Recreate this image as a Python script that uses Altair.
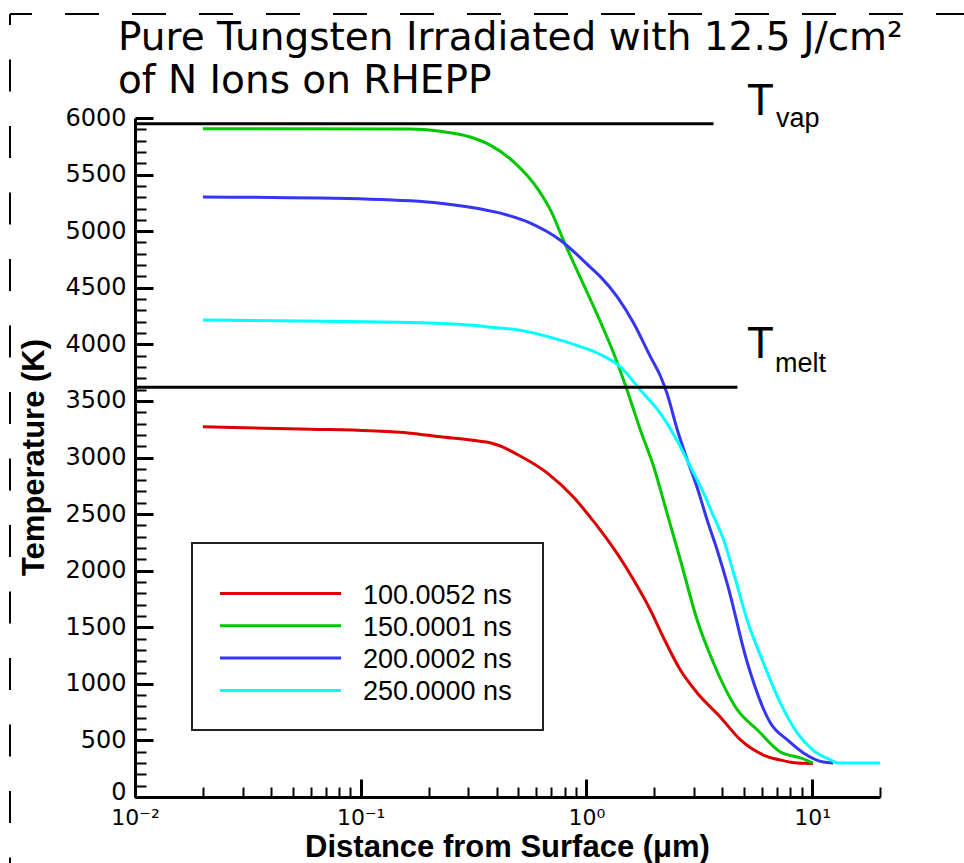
import altair as alt
import pandas as pd

# ---------------- data ----------------
series_names = ["100.0052 ns", "150.0001 ns", "200.0002 ns", "250.0000 ns"]
series_colors = ["#dd0000", "#00c800", "#3535f5", "#00ffff"]

dist_100 = [0.02, 0.06, 0.11, 0.166, 0.225, 0.306, 0.387, 0.43, 0.475, 0.672, 0.876, 1.04,
            1.153, 1.368, 1.621, 1.921, 2.19, 2.61, 3.10, 3.92, 4.82, 6.09, 7.24, 8.61, 10.1]
temp_100 = [3271, 3250, 3236, 3215, 3183, 3154, 3122, 3090, 3045, 2862, 2650, 2473,
            2359, 2153, 1917, 1652, 1413, 1122, 919, 707, 504, 371, 327, 300, 296]

dist_150 = [0.02, 0.166, 0.225, 0.306, 0.375, 0.475, 0.613, 0.70, 0.791, 1.04, 1.153, 1.321,
            1.514, 1.735, 1.988, 2.278, 2.61, 3.096, 3.66, 4.67, 5.73, 7.24, 8.89, 10.1]
temp_150 = [5905, 5903, 5882, 5832, 5760, 5615, 5365, 5170, 4920, 4400, 4200, 3921,
            3596, 3243, 2918, 2507, 2094, 1564, 1184, 769, 592, 398, 345, 300]

dist_200 = [0.02, 0.11, 0.166, 0.225, 0.306, 0.416, 0.565, 0.767, 1.04, 1.153, 1.368, 1.621,
            1.921, 2.128, 2.278, 2.524, 2.794, 3.096, 3.428, 3.797, 4.205, 5.17, 6.54,
            7.78, 9.16, 11.2, 12.4]
temp_200 = [5303, 5283, 5268, 5247, 5212, 5159, 5071, 4920, 4682, 4598, 4421, 4186,
            3891, 3720, 3565, 3250, 2985, 2735, 2448, 2183, 1888, 1184, 654,
            504, 389, 309, 300]

dist_250 = [0.02, 0.166, 0.306, 0.403, 0.510, 0.714, 0.940, 1.153, 1.415, 1.735, 2.128, 2.61,
            2.891, 3.311, 3.667, 4.061, 4.497, 5.156, 6.09, 7.24, 8.61, 10.1, 12.1, 13.0, 20.0]
temp_250 = [4214, 4193, 4170, 4146, 4125, 4055, 3980, 3910, 3800, 3596, 3390, 3095,
            2918, 2683, 2477, 2271, 1977, 1564, 1184, 830, 565, 415, 327, 300, 300]

threshold_names = ["vap", "melt"]
threshold_temps = [5950, 3620]
threshold_x_start = [0.01, 0.01]
threshold_x_end = [3.66, 4.67]

x_major_ticks = [0.01, 0.1, 1, 10]
x_minor_ticks = [k * 10.0 ** e for e in (-2, -1, 0) for k in range(2, 10)] + [20]
y_major_ticks = list(range(0, 6001, 500))
y_label_values = list(range(500, 6001, 500))
y_zero_label = [0]
y_minor_ticks = [v for v in range(0, 6001, 100) if v % 500 != 0]

title_line1 = "Pure Tungsten Irradiated with 12.5 J/cm\u00b2"
title_line2 = "of N Ions on RHEPP"
x_title = "Distance from Surface (\u03bcm)"
y_title = "Temperature (K)"

# ---------------- tables ----------------
rows = []
for name, ds, ts in zip(series_names,
                        [dist_100, dist_150, dist_200, dist_250],
                        [temp_100, temp_150, temp_200, temp_250]):
    for d, t in zip(ds, ts):
        rows.append({"series": name, "distance": d, "temperature": t})
curves = pd.DataFrame(rows)

thresholds = pd.DataFrame({"name": threshold_names, "temp": threshold_temps,
                           "x0": threshold_x_start, "x1": threshold_x_end})
legend_df = pd.DataFrame({"series": series_names, "idx": list(range(len(series_names)))})
one = pd.DataFrame({"k": [0]})

W, H = 745, 679
xscale = alt.Scale(type="log", domain=[0.01, 20], nice=False)
yscale = alt.Scale(domain=[0, 6000], nice=False)
cscale = alt.Scale(domain=series_names, range=series_colors)

label_expr = ("datum.value < 0.05 ? '10\u207b\u00b2' : datum.value < 0.5 ? '10\u207b\u00b9' : "
              "datum.value < 5 ? '10\u2070' : '10\u00b9'")

x_label_axis = alt.Axis(orient="bottom", values=x_major_ticks, labelExpr=label_expr,
                        ticks=False, tickSize=0, labelPadding=10, labelFont="DejaVu Sans",
                        labelFontSize=22, labelFlush=False, domainWidth=3, grid=False,
                        title=x_title, titleFont="Liberation Sans", titleFontWeight="bold",
                        titleFontSize=31, titleX=372, titleY=59, titleBaseline="alphabetic",
                        titleAlign="center")
y_label_axis = alt.Axis(orient="left", values=y_label_values, format="d",
                        ticks=False, tickSize=0, labelPadding=9, labelFont="DejaVu Sans",
                        labelFontSize=24, labelFlush=False, labelOverlap=False,
                        domainWidth=3, grid=False,
                        title=y_title, titleFont="Liberation Sans", titleFontWeight="bold",
                        titleFontSize=31, titleX=-92, titleY=339, titleBaseline="alphabetic",
                        titleAlign="center", titleAngle=-90)
y_zero_axis = alt.Axis(orient="left", values=y_zero_label, format="d",
                       ticks=False, tickSize=0, labelPadding=9, labelFont="DejaVu Sans",
                       labelFontSize=24, labelFlush=False, labelOffset=-5,
                       domain=False, grid=False, title=None)

x_major_axis = alt.Axis(orient="bottom", values=x_major_ticks, tickSize=18, tickWidth=3,
                        offset=-18, domain=False, labels=False, title=None, grid=False)
x_minor_axis = alt.Axis(orient="bottom", values=x_minor_ticks, tickSize=10, tickWidth=2,
                        offset=-10, domain=False, labels=False, title=None, grid=False)
y_major_axis = alt.Axis(orient="left", values=y_major_ticks, tickSize=18, tickWidth=3,
                        offset=-18, domain=False, labels=False, title=None, grid=False)
y_minor_axis = alt.Axis(orient="left", values=y_minor_ticks, tickSize=11, tickWidth=2,
                        offset=-11, domain=False, labels=False, title=None, grid=False)

lines = alt.Chart(curves).mark_line(strokeWidth=3, interpolate="monotone").encode(
    x=alt.X("distance:Q", scale=xscale, axis=x_label_axis),
    y=alt.Y("temperature:Q", scale=yscale, axis=y_label_axis),
    color=alt.Color("series:N", scale=cscale, legend=None),
    detail="series:N",
)

rules = alt.Chart(thresholds).mark_rule(strokeWidth=3, color="black").encode(
    x=alt.X("x0:Q", scale=xscale, axis=x_major_axis),
    x2="x1:Q",
    y=alt.Y("temp:Q", scale=yscale, axis=y_major_axis),
)

minor = alt.Chart(curves).mark_point(opacity=0).encode(
    x=alt.X("distance:Q", scale=xscale, axis=x_minor_axis),
    y=alt.Y("temperature:Q", scale=yscale, axis=y_minor_axis),
)

zero_lab = alt.Chart(curves).mark_point(opacity=0).encode(
    x=alt.X("distance:Q", scale=xscale, axis=None),
    y=alt.Y("temperature:Q", scale=yscale, axis=y_zero_axis),
)

# threshold labels
def txt(text, x, y, size, baseline="alphabetic"):
    return alt.Chart(one).mark_text(text=text, align="left", baseline=baseline,
                                    font="Liberation Sans", fontSize=size, color="black").encode(
        x=alt.value(x), y=alt.value(y))

t_vap = txt("T", 612, -3, 44)
s_vap = txt("vap", 641, 9, 27)
t_melt = txt("T", 612, 240, 44)
s_melt = txt("melt", 640, 254, 27)

title1 = alt.Chart(one).mark_text(text=title_line1, align="left", baseline="alphabetic",
                                  font="DejaVu Sans", fontSize=39, color="black").encode(
    x=alt.value(-17), y=alt.value(-68))
title2 = alt.Chart(one).mark_text(text=title_line2, align="left", baseline="alphabetic",
                                  font="DejaVu Sans", fontSize=39, color="black").encode(
    x=alt.value(-17), y=alt.value(-25))

# legend box
box = alt.Chart(one).mark_rect(fill="white", stroke="#222222", strokeWidth=2).encode(
    x=alt.value(57), x2=alt.value(408), y=alt.value(425), y2=alt.value(612))
leg_lines = alt.Chart(legend_df).transform_calculate(
    py="475.5 + 32.3 * datum.idx").mark_rule(strokeWidth=3).encode(
    x=alt.value(85), x2=alt.value(206),
    y=alt.Y("py:Q", scale=None, axis=None),
    color=alt.Color("series:N", scale=cscale, legend=None),
)
leg_text = alt.Chart(legend_df).transform_calculate(
    py="477.5 + 32.3 * datum.idx").mark_text(align="left", baseline="middle",
                                              font="Liberation Sans", fontSize=27,
                                              color="black").encode(
    x=alt.value(228),
    y=alt.Y("py:Q", scale=None, axis=None),
    text="series:N",
)

# dashed frame around the picture
frame_top = alt.Chart(one).mark_rule(strokeWidth=2, color="black", strokeDash=[34, 33],
                                     strokeDashOffset=12).encode(
    x=alt.value(-125), x2=alt.value(829), y=alt.value(-104))
frame_left = alt.Chart(one).mark_rule(strokeWidth=2, color="black", strokeDash=[32, 34.5],
                                      strokeDashOffset=21).encode(
    x=alt.value(-125), y=alt.value(-104), y2=alt.value(745))

chart = alt.layer(
    lines, rules, minor, zero_lab, t_vap, s_vap, t_melt, s_melt, title1, title2,
    box, leg_lines, leg_text, frame_top, frame_left,
).resolve_axis(x="independent", y="independent").properties(
    width=W, height=H,
    padding={"left": 135, "top": 118, "right": 84, "bottom": 66},
    autosize=alt.AutoSizeParams(type="none"),
    background="white",
).configure_view(stroke=None).configure_axis(
    domainColor="black", tickColor="black", labelColor="black", titleColor="black", grid=False
)

chart.save("out.html", embed_options={"renderer": "svg", "actions": False})
